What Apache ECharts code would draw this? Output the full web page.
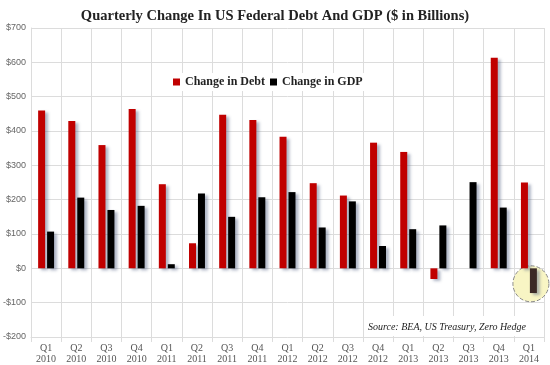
<!DOCTYPE html>
<html><head><meta charset="utf-8">
<script src="https://cdn.jsdelivr.net/npm/echarts@6/dist/echarts.min.js"></script>
<style>html,body{margin:0;padding:0;background:#fff}#c{width:550px;height:365px}</style>
</head><body><div id="c"></div>
<script>
var categories = ['Q1\n2010','Q2\n2010','Q3\n2010','Q4\n2010','Q1\n2011','Q2\n2011','Q3\n2011','Q4\n2011','Q1\n2012','Q2\n2012','Q3\n2012','Q4\n2012','Q1\n2013','Q2\n2013','Q3\n2013','Q4\n2013','Q1\n2014'];
var debtChange = [460, 429, 359, 464, 245, 73, 447, 432, 383, 248, 212, 366, 339, -31, 0, 613, 250];
var gdpChange = [107, 206, 170, 182, 12, 218, 150, 207, 222, 119, 195, 65, 114, 125, 251, 177, -72];
var yTicks = [-200, -100, 0, 100, 200, 300, 400, 500, 600, 700];
var highlight = {index: 16, value: -45};

var chart = echarts.init(document.getElementById('c'));
var gridGray = '#dcdcdc';
var shadow = {shadowColor: 'rgba(80,95,130,0.45)', shadowBlur: 3, shadowOffsetX: 3, shadowOffsetY: 2};
var gdpData = gdpChange.map(function (v, i) {
  return i === highlight.index ? {value: v, itemStyle: {color: '#3b2926'}} : v;
});
chart.setOption({
  animation: false,
  title: {
    text: 'Quarterly Change In US Federal Debt And GDP ($ in Billions)',
    left: 'center', top: 4,
    textStyle: {fontFamily: 'Liberation Serif', fontWeight: 'bold', fontSize: 14.5, color: '#222'}
  },
  legend: {
    left: 170, top: 73,
    backgroundColor: '#fff',
    padding: [3, 3],
    itemWidth: 7, itemHeight: 7, itemGap: 5,
    icon: 'rect',
    textStyle: {fontFamily: 'Liberation Serif', fontWeight: 'bold', fontSize: 12, color: '#222'},
    data: ['Change in Debt', 'Change in GDP']
  },
  graphic: [{
    type: 'rect', z: 9, shape: {x: 366, y: 316, width: 177, height: 20},
    style: {fill: '#fff'}
  }, {
    type: 'text', x: 526, y: 327, z: 10,
    style: {text: 'Source: BEA, US Treasury, Zero Hedge', font: 'italic 10px "Liberation Serif"',
      fill: '#222', align: 'right', verticalAlign: 'middle'}
  }],
  grid: {left: 28, right: 6, top: 28, bottom: 28},
  xAxis: {
    type: 'category', data: categories,
    axisLine: {onZero: false, lineStyle: {color: gridGray}},
    axisTick: {show: true, length: 5, lineStyle: {color: gridGray}},
    splitLine: {show: true, lineStyle: {color: gridGray}},
    axisLabel: {fontFamily: 'Liberation Serif', fontSize: 10, color: '#555', lineHeight: 11, margin: 6, interval: 0}
  },
  yAxis: {
    type: 'value', min: yTicks[0], max: yTicks[yTicks.length - 1], interval: 100,
    axisLine: {show: true, lineStyle: {color: gridGray}},
    axisTick: {show: false},
    splitLine: {lineStyle: {color: gridGray}},
    axisLabel: {fontFamily: 'Liberation Sans', fontSize: 9, color: '#666', margin: 5,
      formatter: function (v) { return v < 0 ? '-$' + (-v) : '$' + v; }}
  },
  series: [{
    name: 'Change in Debt', type: 'bar', data: debtChange,
    barWidth: 7, barGap: '28%',
    itemStyle: Object.assign({color: '#c00000'}, shadow)
  }, {
    name: 'Change in GDP', type: 'bar', data: gdpData,
    barWidth: 7,
    itemStyle: Object.assign({color: '#000'}, shadow)
  }, {
    name: 'highlight', type: 'scatter', z: 1, silent: true,
    data: [[highlight.index, highlight.value]],
    symbol: 'circle', symbolSize: 36, symbolOffset: [2, 0],
    itemStyle: {color: '#f8f5c4', borderColor: '#888', borderWidth: 1, borderType: 'dashed', opacity: 1}
  }]
});
</script></body></html>
